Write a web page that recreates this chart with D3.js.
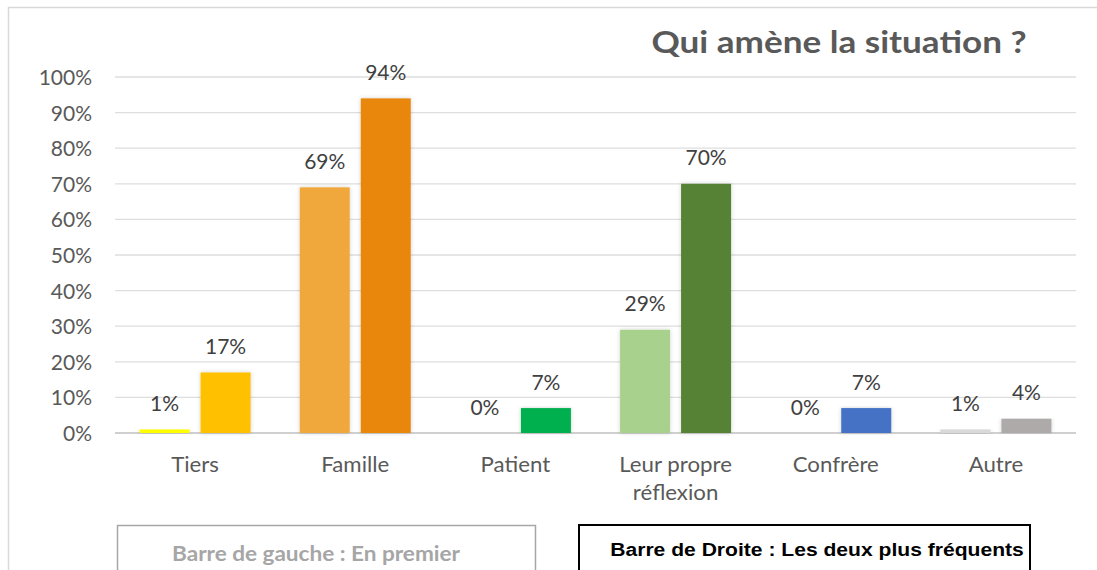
<!DOCTYPE html>
<html><head><meta charset="utf-8">
<script src="https://cdn.jsdelivr.net/npm/d3@7/dist/d3.min.js"></script>
<style>body{margin:0;background:#fff;}svg{display:block;}</style>
</head><body>
<svg id="c" width="1097" height="570"></svg>
<script>
const categories = ["Tiers","Famille","Patient","Leur propre réflexion","Confrère","Autre"];
const firstValues = [1,69,0,29,0,1];
const twoMostValues = [17,94,7,70,7,4];
const firstColors = ["#FFFF00","#F0A83C","#9BE0B0","#A9D18E","#8FAADC","#D9D9D9"];
const secondColors = ["#FFC000","#E98711","#00B050","#548235","#4472C4","#AEAAAA"];
const yTicks = [0,10,20,30,40,50,60,70,80,90,100];
const title = "Qui amène la situation ?";
const legendLeft = "Barre de gauche : En premier";
const legendRight = "Barre de Droite : Les deux plus fréquents";

const svg = d3.select("#c");
const font = "Lato, 'Open Sans', sans-serif";

const defs = svg.append("defs");
const f = defs.append("filter").attr("id","sh").attr("x","-20%").attr("y","-5%").attr("width","140%").attr("height","110%");
f.append("feDropShadow").attr("dx",0).attr("dy",0).attr("stdDeviation",2).attr("flood-color","#000").attr("flood-opacity",0.18);

// outer frame
svg.append("path").attr("d","M8.5,570 V7.5 H1097").attr("fill","none").attr("stroke","#d9d9d9").attr("stroke-width",1.5);

const x0 = d3.scaleBand().domain(categories).range([115,1076]);
const y = d3.scaleLinear().domain([0,100]).range([433,77]);

// grid
svg.append("g").selectAll("line").data(yTicks).join("line")
  .attr("x1",115).attr("x2",1076).attr("y1",d=>y(d)).attr("y2",d=>y(d))
  .attr("stroke",d=>d===0?"#d0d0d0":"#dedede").attr("stroke-width",d=>d===0?2:1.3);

// y axis labels
const yAxis = d3.axisLeft(y).tickValues(yTicks).tickFormat(d=>d+"%").tickSize(0).tickPadding(0);
const ya = svg.append("g").attr("transform","translate(92,0)").call(yAxis);
ya.select(".domain").remove();
ya.selectAll("text").attr("font-family",font).attr("font-size",21).attr("fill","#595959")
  .attr("x",0).attr("dy","0.36em");

const bw = 50, gap = 11;
const data = categories.map((c,i)=>({c,i,a:firstValues[i],b:twoMostValues[i]}));
const g = svg.append("g");
function label(xc, v){
  g.append("text").attr("transform",`translate(${xc},${y(v)-18.5})`).attr("text-anchor","middle")
    .attr("font-family",font).attr("font-size",21).attr("fill","#404040").text(v+"%");
}
data.forEach(d=>{
  const cx = x0(d.c)+x0.bandwidth()/2;
  const xa = cx - gap/2 - bw, xb = cx + gap/2;
  if (d.a>0) g.append("rect").attr("x",xa).attr("width",bw).attr("y",y(d.a)).attr("height",y(0)-y(d.a)).attr("fill",firstColors[d.i]).attr("filter","url(#sh)");
  g.append("rect").attr("x",xb).attr("width",bw).attr("y",y(d.b)).attr("height",y(0)-y(d.b)).attr("fill",secondColors[d.i]).attr("filter","url(#sh)");
  label(xa+bw/2, d.a);
  label(xb+bw/2, d.b);
});

// category labels
const xAxis = d3.axisBottom(x0).tickSize(0).tickPadding(0);
const xa = svg.append("g").attr("transform","translate(0,433)").call(xAxis);
xa.select(".domain").remove();
xa.selectAll("text").each(function(d){
  const t = d3.select(this).text("").attr("font-family",font).attr("font-size",21).attr("fill","#595959")
    .attr("y",0).attr("dy",null).attr("transform","scale(1.06,1)");
  const parts = d==="Leur propre réflexion" ? ["Leur propre","réflexion"] : [d];
  parts.forEach((p,k)=>t.append("tspan").attr("x",0).attr("y",39+k*28).text(p));
});

// title
svg.append("text").attr("transform","translate(839,53) scale(1.17,1)").attr("text-anchor","middle").attr("font-family",font)
  .attr("font-weight","bold").attr("font-size",30).attr("fill","#595959").text(title);

// legend boxes
svg.append("rect").attr("x",117.5).attr("y",525.5).attr("width",418).attr("height",60).attr("fill","#fff").attr("stroke","#a6a6a6").attr("stroke-width",1.5);
svg.append("text").attr("transform","translate(316,560.5) scale(1.05,1)").attr("text-anchor","middle").attr("font-family",font).attr("font-weight","bold").attr("font-size",21.5).attr("fill","#a6a6a6").text(legendLeft);
svg.append("rect").attr("x",579).attr("y",525).attr("width",451).attr("height",60).attr("fill","#fff").attr("stroke","#000").attr("stroke-width",2);
svg.append("text").attr("transform","translate(817,556) scale(1.14,1)").attr("text-anchor","middle").attr("font-family","'Liberation Sans', Arial, sans-serif").attr("font-weight","bold").attr("font-size",18.5).attr("fill","#000").text(legendRight);
</script>
</body></html>
